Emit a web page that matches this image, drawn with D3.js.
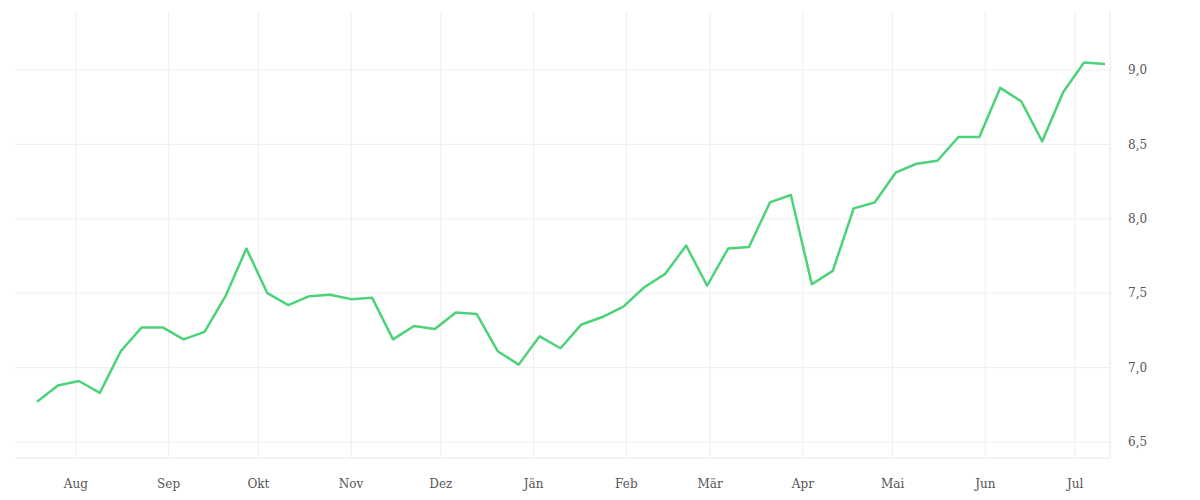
<!DOCTYPE html>
<html><head><meta charset="utf-8">
<script src="https://cdn.jsdelivr.net/npm/d3@7"></script>
<style>body{margin:0;background:#fff}</style></head>
<body><svg id="c" width="1200" height="500"></svg>
<script>
const startDate = "2022-07-19";
const values = [6.77,6.88,6.91,6.83,7.11,7.27,7.27,7.19,7.24,7.48,7.80,7.50,7.42,7.48,7.49,7.46,7.47,7.19,7.28,7.26,7.37,7.36,7.11,7.02,7.21,7.13,7.29,7.34,7.41,7.54,7.63,7.82,7.55,7.80,7.81,8.11,8.16,7.56,7.65,8.07,8.11,8.31,8.37,8.39,8.55,8.55,8.88,8.79,8.52,8.85,9.05,9.04];
const monthLabels = ["Aug","Sep","Okt","Nov","Dez","Jän","Feb","Mär","Apr","Mai","Jun","Jul"];
const yTicks = [6.5,7.0,7.5,8.0,8.5,9.0];

const s0 = d3.timeParse("%Y-%m-%d")(startDate);
const data = values.map((v,i)=>({d:d3.timeDay.offset(s0,i*7),v}));
const svg = d3.select("#c");
const L=15,R=1110,T=12,B=458;
const x = d3.scaleTime().domain([data[0].d,data[data.length-1].d]).range([37,1105]);
const y = d3.scaleLinear().domain([6.5,9.0]).range([442,70]);
const months = d3.timeMonth.range(new Date(2022,7,1), new Date(2023,7,1));
const font="DejaVu Serif";
// grid
svg.append("g").selectAll("line").data(months).join("line")
 .attr("x1",d=>x(d)).attr("x2",d=>x(d)).attr("y1",T).attr("y2",B).attr("stroke","#eee");
svg.append("g").selectAll("line").data(yTicks).join("line")
 .attr("x1",L).attr("x2",R).attr("y1",d=>y(d)).attr("y2",d=>y(d)).attr("stroke","#eee");
svg.append("line").attr("x1",L).attr("x2",R).attr("y1",B).attr("y2",B).attr("stroke","#e6e6e6");
svg.append("line").attr("x1",R).attr("x2",R).attr("y1",T).attr("y2",B).attr("stroke","#e6e6e6");
// axes labels
const fmt = d3.formatLocale({decimal:",",thousands:".",grouping:[3],currency:["","€"]}).format(".1f");
svg.append("g").selectAll("text").data(yTicks).join("text")
 .attr("x",1128).attr("y",d=>y(d)).attr("dy","0.35em")
 .attr("font-family",font).attr("font-size",12).attr("fill","#555").text(d=>fmt(d));
svg.append("g").selectAll("text").data(months).join("text")
 .attr("x",d=>x(d)).attr("y",488).attr("text-anchor","middle")
 .attr("font-family",font).attr("font-size",12).attr("fill","#555").text((d,i)=>monthLabels[i]);
// line
svg.append("path").datum(data)
 .attr("d",d3.line().x(d=>x(d.d)).y(d=>y(d.v)))
 .attr("fill","none").attr("stroke","#4cd37a").attr("stroke-width",2.5).attr("stroke-linejoin","round");
</script></body></html>
